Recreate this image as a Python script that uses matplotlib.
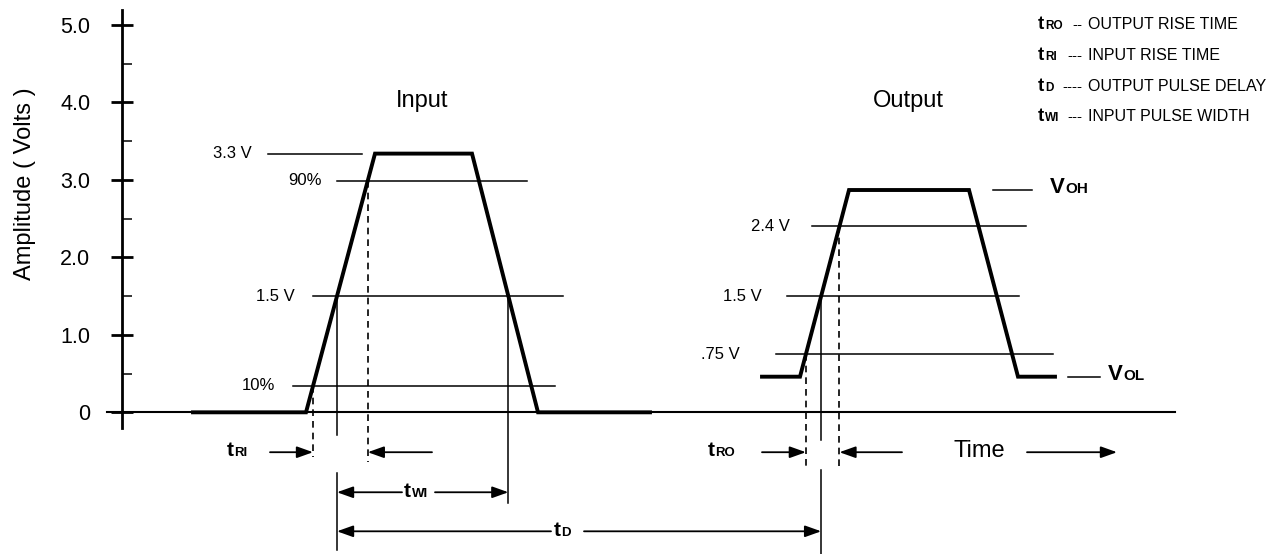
# pulse timing diagram: input / output rise times, pulse width and delay
import numpy as np
import matplotlib.pyplot as plt

plt.rcParams["font.family"] = ["Liberation Sans", "DejaVu Sans"]

# ---- waveform corners (time in arbitrary units, amplitude in volts) ----
IN_T = [7.1, 18.4, 25.3, 35.0, 41.6, 52.8]
IN_V = [0.0, 0.0, 3.34, 3.34, 0.0, 0.0]
OUT_T = [64.0, 67.8, 72.7, 84.7, 89.6, 93.3]
OUT_V = [0.46, 0.46, 2.87, 2.87, 0.46, 0.46]

# reference levels drawn across the input pulse
IN_LEVELS = [3.34, 2.99, 1.5, 0.34]
IN_LEVEL_LABELS = ["3.3 V", "90%", "1.5 V", "10%"]
IN_LEVEL_SPAN = [(14.6, 24.0), (21.5, 40.5), (19.1, 44.1), (17.1, 43.3)]
IN_LABEL_X = [13.0, 20.0, 17.3, 15.3]

# reference levels drawn across the output pulse
OUT_LEVELS = [2.4, 1.5, 0.75]
OUT_LEVEL_LABELS = ["2.4 V", "1.5 V", ".75 V"]
OUT_LEVEL_SPAN = [(69.0, 90.4), (66.5, 89.7), (65.4, 93.1)]
OUT_LABEL_X = [66.8, 64.0, 61.8]

VOH_SPAN = (87.1, 91.0)
VOL_SPAN = (94.6, 97.8)

Y_TICKS = [0, 1, 2, 3, 4, 5]
Y_TICK_LABELS = ["0", "1.0", "2.0", "3.0", "4.0", "5.0"]
Y_MINOR = [0.5, 1.5, 2.5, 3.5, 4.5]

LEGEND_SUBS = ["RO", "RI", "D", "WI"]
LEGEND_DASHES = ["--", "---", "----", "---"]
LEGEND_DESC = ["OUTPUT RISE TIME", "INPUT RISE TIME",
               "OUTPUT PULSE DELAY", "INPUT PULSE WIDTH"]
LEGEND_Y = [4.95, 4.55, 4.15, 3.76]

ROW_RISE = -0.515   # tRI / tRO arrows
ROW_TWI = -1.032
ROW_TD = -1.536


def crossing(t, v, i, level):
    """Time where segment i -> i+1 of a waveform crosses a level."""
    return t[i] + (level - v[i]) * (t[i + 1] - t[i]) / (v[i + 1] - v[i])


def t_label(ax, x, y, sub, size, subsize):
    ax.text(x, y, "t", fontsize=size, fontweight="bold", va="baseline", ha="left")
    ax.annotate(sub, xy=(x, y), xytext=(size * 0.36, 0), textcoords="offset points",
                fontsize=subsize, fontweight="bold", va="baseline", ha="left")


def arrow(ax, x0, x1, y, style="-|>"):
    ax.annotate("", xy=(x1, y), xytext=(x0, y),
                arrowprops=dict(arrowstyle=style + ",head_length=0.7,head_width=0.25",
                                mutation_scale=14, lw=1.3, color="black",
                                shrinkA=0, shrinkB=0))


def main():
    fig = plt.figure(figsize=(12.72, 5.54), dpi=100)
    ax = fig.add_axes([0, 0, 1, 1])
    ax.set_xlim(-12.2, 115.0)
    ax.set_ylim(-1.829, 5.323)

    # axes drawn as crossing lines
    for s in ("top", "right"):
        ax.spines[s].set_visible(False)
    ax.spines["left"].set_position(("data", 0))
    ax.spines["bottom"].set_position(("data", 0))
    ax.spines["left"].set_bounds(-0.2, 5.19)
    ax.spines["bottom"].set_bounds(-1.5, 105.3)
    ax.spines["left"].set_linewidth(2.0)
    ax.spines["bottom"].set_linewidth(1.5)
    ax.set_xticks([])
    ax.set_yticks(Y_TICKS)
    ax.set_yticklabels(Y_TICK_LABELS)
    ax.set_yticks(Y_MINOR, minor=True)
    ax.tick_params(axis="y", which="major", direction="inout", length=15.8,
                   width=2.0, pad=15, labelsize=15.5)
    ax.tick_params(axis="y", which="minor", direction="in", length=7, width=1.1)
    ax.set_ylabel("Amplitude ( Volts )", fontsize=17)
    ax.yaxis.set_label_coords(0.028, 0.668)

    thin = dict(color="black", lw=1.1)
    dash = dict(color="black", lw=1.2, dashes=(4, 3))

    # level lines and their labels
    for lev, lab, (a, b), lx in zip(IN_LEVELS, IN_LEVEL_LABELS, IN_LEVEL_SPAN, IN_LABEL_X):
        ax.plot([a, b], [lev, lev], **thin)
        ax.text(lx, lev, lab, fontsize=12, ha="right", va="center")
    for lev, lab, (a, b), lx in zip(OUT_LEVELS, OUT_LEVEL_LABELS, OUT_LEVEL_SPAN, OUT_LABEL_X):
        ax.plot([a, b], [lev, lev], **thin)
        ax.text(lx, lev, lab, fontsize=12, ha="right", va="center")
    ax.plot(VOH_SPAN, [OUT_V[2]] * 2, **thin)
    ax.plot(VOL_SPAN, [OUT_V[0]] * 2, **thin)

    # waveforms
    ax.plot(IN_T, IN_V, color="black", lw=2.8, solid_joinstyle="miter", zorder=3)
    ax.plot(OUT_T, OUT_V, color="black", lw=2.8, solid_joinstyle="miter", zorder=3)

    # threshold crossings
    t10 = crossing(IN_T, IN_V, 1, IN_LEVELS[3])
    t50_in = crossing(IN_T, IN_V, 1, IN_LEVELS[2])
    t90 = crossing(IN_T, IN_V, 1, IN_LEVELS[1])
    t50_fall = crossing(IN_T, IN_V, 3, IN_LEVELS[2])
    t075 = crossing(OUT_T, OUT_V, 1, OUT_LEVELS[2])
    t50_out = crossing(OUT_T, OUT_V, 1, OUT_LEVELS[1])
    t24 = crossing(OUT_T, OUT_V, 1, OUT_LEVELS[0])

    # vertical guides
    ax.plot([t10, t10], [IN_LEVELS[3], -0.58], **dash)
    ax.plot([t90, t90], [IN_LEVELS[1], -0.64], **dash)
    ax.plot([t50_in, t50_in], [1.5, -0.29], **thin)
    ax.plot([t50_in, t50_in], [-0.78, -1.78], **thin)
    ax.plot([t50_fall, t50_fall], [1.5, -1.17], **thin)
    ax.plot([t075, t075], [OUT_LEVELS[2], -0.71], **dash)
    ax.plot([t24, t24], [OUT_LEVELS[0], -0.71], **dash)
    ax.plot([t50_out, t50_out], [1.5, -0.36], **thin)
    ax.plot([t50_out, t50_out], [-0.75, -1.83], **thin)

    # rise-time arrows
    arrow(ax, 14.8, t10, ROW_RISE)
    arrow(ax, 31.0, t90, ROW_RISE)
    arrow(ax, 64.0, t075, ROW_RISE)
    arrow(ax, 78.0, t24, ROW_RISE)
    arrow(ax, 90.5, 99.5, ROW_RISE)
    t_label(ax, 10.5, -0.56, "RI", 15, 9.5)
    t_label(ax, 58.6, -0.56, "RO", 15, 9.5)
    ax.text(83.1, -0.577, "Time", fontsize=17, ha="left", va="baseline")

    # pulse width and delay
    arrow(ax, 28.0, t50_in, ROW_TWI)
    arrow(ax, 31.3, t50_fall, ROW_TWI)
    t_label(ax, 28.2, -1.09, "WI", 15, 9.5)
    arrow(ax, 42.9, t50_in, ROW_TD)
    arrow(ax, 46.2, t50_out, ROW_TD)
    t_label(ax, 43.2, -1.60, "D", 15, 9.5)

    # pulse names and output levels
    ax.text(30.0, 3.94, "Input", fontsize=17, ha="center", va="baseline")
    ax.text(78.6, 3.94, "Output", fontsize=17, ha="center", va="baseline")
    for x, y, sub in ((92.8, 2.83, "OH"), (98.6, 0.42, "OL")):
        ax.text(x, y, "V", fontsize=16, fontweight="bold", va="baseline", ha="left")
        ax.annotate(sub, xy=(x, y), xytext=(11.0, 0), textcoords="offset points",
                    fontsize=11, fontweight="bold", va="baseline", ha="left")

    # legend block
    for sub, dsh, desc, y in zip(LEGEND_SUBS, LEGEND_DASHES, LEGEND_DESC, LEGEND_Y):
        t_label(ax, 91.6, y, sub, 13.5, 8.5)
        ax.text(96.0, y, dsh, fontsize=11, ha="right", va="baseline")
        ax.text(96.6, y, desc, fontsize=11.5, ha="left", va="baseline")

    fig.savefig("out.png", dpi=100)


if __name__ == "__main__":
    main()
